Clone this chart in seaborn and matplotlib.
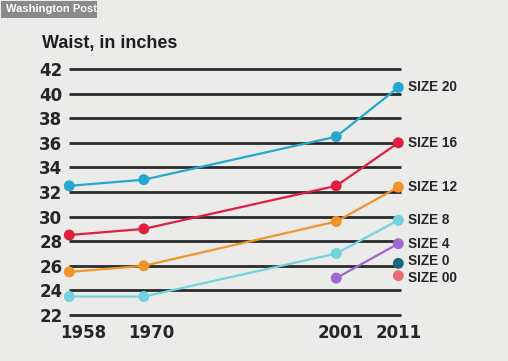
import matplotlib
matplotlib.use("Agg")
import matplotlib.pyplot as plt
import matplotlib.transforms as mtransforms
from matplotlib.patches import Rectangle
import seaborn as sns
import pandas as pd

# ---- data ----
years = [1958, 1970, 2001, 2011]
size20 = [32.5, 33.0, 36.5, 40.5]
size16 = [28.5, 29.0, 32.5, 36.0]
size12 = [25.5, 26.0, 29.6, 32.4]
size8 = [23.5, 23.5, 27.0, 29.7]
size4_years = [2001, 2011]
size4 = [25.0, 27.8]
size0_years = [2011]
size0 = [26.2]
size00_years = [2011]
size00 = [25.2]
yticks = [22, 24, 26, 28, 30, 32, 34, 36, 38, 40, 42]

series = [
    ("SIZE 20", years, size20),
    ("SIZE 16", years, size16),
    ("SIZE 12", years, size12),
    ("SIZE 8", years, size8),
    ("SIZE 4", size4_years, size4),
    ("SIZE 0", size0_years, size0),
    ("SIZE 00", size00_years, size00),
]
rows = []
for name, xs, ys in series:
    for x, y in zip(xs, ys):
        rows.append({"size": name, "year": x, "waist": y})
df = pd.DataFrame(rows)

palette = {
    "SIZE 20": "#27a6cf",
    "SIZE 16": "#e01f40",
    "SIZE 12": "#f0942a",
    "SIZE 8": "#72d2de",
    "SIZE 4": "#9b69cf",
    "SIZE 0": "#16697c",
    "SIZE 00": "#ef6a72",
}
bg = "#ebebea"

sns.set_theme(style="white")
plt.rcParams["font.family"] = ["Liberation Sans", "DejaVu Sans"]

W, H = 508, 361
fig = plt.figure(figsize=(W / 100, H / 100), dpi=100, facecolor=bg)
ax_l, ax_r, ax_t, ax_b = 68, 410, 60, 320
ax = fig.add_axes([ax_l / W, (H - ax_b) / H, (ax_r - ax_l) / W, (ax_b - ax_t) / H])
ax.set_facecolor(bg)

# x scale: 1958 -> px 69.3, 2011 -> px 398.3
pxyr = (398.3 - 69.3) / 53
ax.set_xlim(1958 - (69.3 - ax_l) / pxyr, 2011 + (ax_r - 398.3) / pxyr)
pxu = (315 - 69) / 20
ax.set_ylim(22 - (ax_b - 315) / pxu, 42 + (69 - ax_t) / pxu)

ax.hlines(yticks, 1958 - 0.1, 2011.45, colors="#2b2b2b", linewidth=2.0, zorder=1)

sns.lineplot(data=df, x="year", y="waist", hue="size", palette=palette,
             linewidth=1.6, legend=False, ax=ax, zorder=3, estimator=None, sort=True)
sns.scatterplot(data=df, x="year", y="waist", hue="size", palette=palette,
                s=62, linewidth=0, legend=False, ax=ax, zorder=4)
for coll in ax.collections:
    coll.set_clip_on(False)
for ln in ax.lines:
    ln.set_clip_on(False)

for spine in ax.spines.values():
    spine.set_visible(False)

ax.set_yticks(yticks)
ax.set_yticklabels([str(t) for t in yticks])
ax.set_xticks(years)
ax.set_xticklabels([str(y) for y in years])
ax.tick_params(axis="y", length=0, pad=4, labelsize=12, colors="#262626")
ax.tick_params(axis="x", length=0, pad=3, labelsize=12, colors="#262626")
for lab in ax.get_yticklabels() + ax.get_xticklabels():
    lab.set_fontweight("bold")
    lab.set_fontfamily(["DejaVu Sans"])
ax.set_xlabel("")
ax.set_ylabel("")

# nudge x labels to match the reference placement (pixels)
x_shift = {1958: 14, 1970: 8, 2001: 4, 2011: 0}
for lab, yr in zip(ax.get_xticklabels(), years):
    off = mtransforms.ScaledTranslation(x_shift[yr] / 100, 0, fig.dpi_scale_trans)
    lab.set_transform(lab.get_transform() + off)

# end labels
label_pos = [
    ("SIZE 20", size20[-1], 0), ("SIZE 16", size16[-1], 0),
    ("SIZE 12", size12[-1], 0), ("SIZE 8", size8[-1], 0),
    ("SIZE 4", size4[-1], 0), ("SIZE 0", size0[-1], 2),
    ("SIZE 00", size00[-1], -2),
]
for name, y, dy in label_pos:
    ax.annotate(name, xy=(2011, y), xytext=(7, dy), textcoords="offset points",
                ha="left", va="center", fontsize=9.8, fontweight="bold",
                color="#262626", annotation_clip=False)

fig.text(42 / W, 1 - 48 / H, "Waist, in inches", ha="left", va="baseline",
         fontsize=13, fontweight="bold", color="#1e1e1e")
fig.add_artist(Rectangle((1 / W, 1 - 18 / H), 96 / W, 17 / H, transform=fig.transFigure,
                         facecolor="#8a8a8a", edgecolor="none"))
fig.text(6 / W, 1 - 9.5 / H, "Washington Post", ha="left", va="center",
         fontsize=8, fontweight="bold", color="white")

fig.savefig("out.png", dpi=100, facecolor=bg)
